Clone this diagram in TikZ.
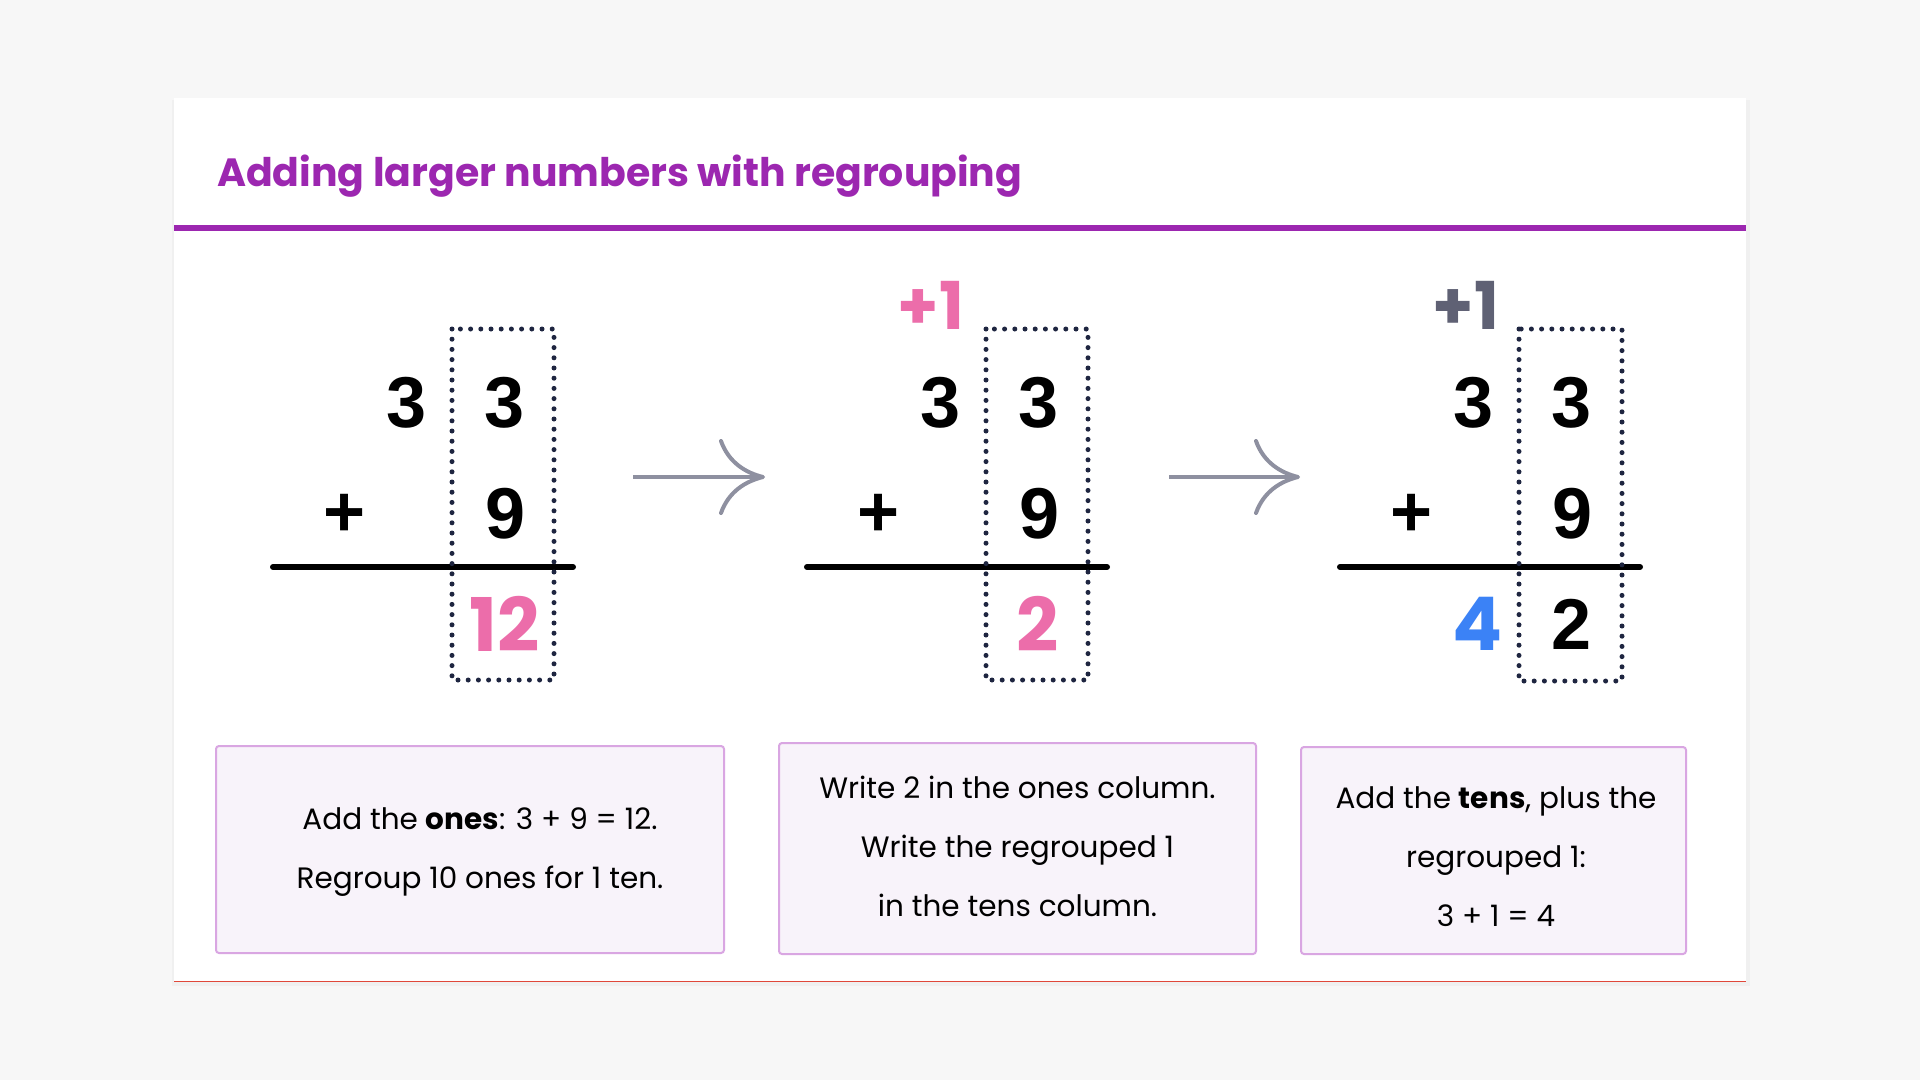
\documentclass[tikz,border=0pt]{standalone}
\usepackage{fontspec}
\setmainfont{Poppins}
\newfontfamily\digitfont{Liberation Sans}
\usetikzlibrary{arrows.meta}

\definecolor{pagebg}{HTML}{F7F7F7}
\definecolor{titlepurple}{HTML}{9C27B0}
\definecolor{carrypink}{HTML}{EC6DAA}
\definecolor{sumblue}{HTML}{3B82F6}
\definecolor{carrygray}{HTML}{5F6174}
\definecolor{dotnavy}{HTML}{1E2540}
\definecolor{arrowgray}{HTML}{8E90A0}
\definecolor{notefill}{HTML}{F8F3FA}
\definecolor{noteline}{HTML}{D9A6E2}
\definecolor{cardred}{HTML}{E0483A}

\tikzset{
  digit/.style={inner sep=0pt, font=\digitfont\bfseries\fontsize{72}{72}\selectfont},
  popdigit/.style={inner sep=0pt, font=\bfseries\fontsize{74}{74}\selectfont},
  carry/.style={inner sep=0pt, font=\bfseries\fontsize{66}{66}\selectfont},
  sumline/.style={line width=6pt, line cap=round},
  onesbox/.style={draw=dotnavy, line width=5pt, line cap=round, dash pattern=on 0pt off 10.2pt},
  steparrow/.style={draw=arrowgray, line width=4pt, -{Computer Modern Rightarrow[length=46pt,width=76pt]}},
  notebox/.style={draw=noteline, line width=2pt, fill=notefill, rounded corners=3pt, inner sep=0pt},
  notetext/.style={align=center, font=\fontsize{29.5}{59}\selectfont, inner sep=0pt}
}

\begin{document}
\begin{tikzpicture}[x=1pt,y=-1pt]
\useasboundingbox (0,0) rectangle (1920,1080);
\fill[pagebg] (0,0) rectangle (1920,1080);

% card
\fill[black!6] (172,100) rectangle (1750,986);
\fill[white] (174,98) rectangle (1746,981);
\draw[cardred, line width=1pt] (174,981) -- (1746,981);
\node[anchor=base west, inner sep=0pt, text=titlepurple, font=\bfseries\fontsize{39.4}{48}\selectfont] (title) at (217,186) {Adding larger numbers with regrouping};
\fill[titlepurple] (174,225) rectangle (1746,231);

% step 1
\node[digit] (p1t) at (407,403) {3};
\node[digit] (p1o) at (505,403) {3};
\node[digit] (p1plus) at (345,515) {+};
\node[digit] (p1n) at (506,514) {9};
\draw[sumline] (273,567) -- (573,567);
\draw[onesbox] (452,329) rectangle (554,680);
\node[popdigit, text=carrypink] (p1s) at (505,624) {12};

\coordinate (a1s) at (633,477);
\coordinate (a1e) at (765,477);
\draw[steparrow] (a1s) -- (a1e);

% step 2
\node[carry, text=carrypink] (p2c) at (931,305) {+1};
\node[digit] (p2t) at (941,403) {3};
\node[digit] (p2o) at (1039,403) {3};
\node[digit] (p2plus) at (879,515) {+};
\node[digit] (p2n) at (1040,514) {9};
\draw[sumline] (807,567) -- (1107,567);
\draw[onesbox] (986,329) rectangle (1088,680);
\node[popdigit, text=carrypink] (p2s) at (1038,624) {2};

\coordinate (a2s) at (1169,477);
\coordinate (a2e) at (1300,477);
\draw[steparrow] (a2s) -- (a2e);

% step 3
\node[carry, text=carrygray] (p3c) at (1466,305) {+1};
\node[digit] (p3t) at (1474,403) {3};
\node[digit] (p3o) at (1572,403) {3};
\node[digit] (p3plus) at (1412,515) {+};
\node[digit] (p3n) at (1573,514) {9};
\draw[sumline] (1340,567) -- (1640,567);
\draw[onesbox] (1519,329) rectangle (1622,681);
\node[popdigit, text=sumblue] (p3st) at (1478,624) {4};
\node[digit] (p3so) at (1572,624) {2};

% notes
\node[notebox, minimum width=508pt, minimum height=207pt] (n1) at (470,849.5) {};
\node[notetext] (n1t) at (480,852) {Add the \textbf{ones}: 3 + 9 = 12.\\Regroup 10 ones for 1 ten.};
\node[notebox, minimum width=477pt, minimum height=211pt] (n2) at (1017.5,848.5) {};
\node[notetext] (n2t) at (1017.5,846.5) {Write 2 in the ones column.\\Write the regrouped 1\\in the tens column.};
\node[notebox, minimum width=385pt, minimum height=207pt] (n3) at (1493.5,850.5) {};
\node[notetext] (n3t) at (1496,857) {Add the \textbf{tens}, plus the\\regrouped 1:\\3 + 1 = 4};
\end{tikzpicture}
\end{document}
